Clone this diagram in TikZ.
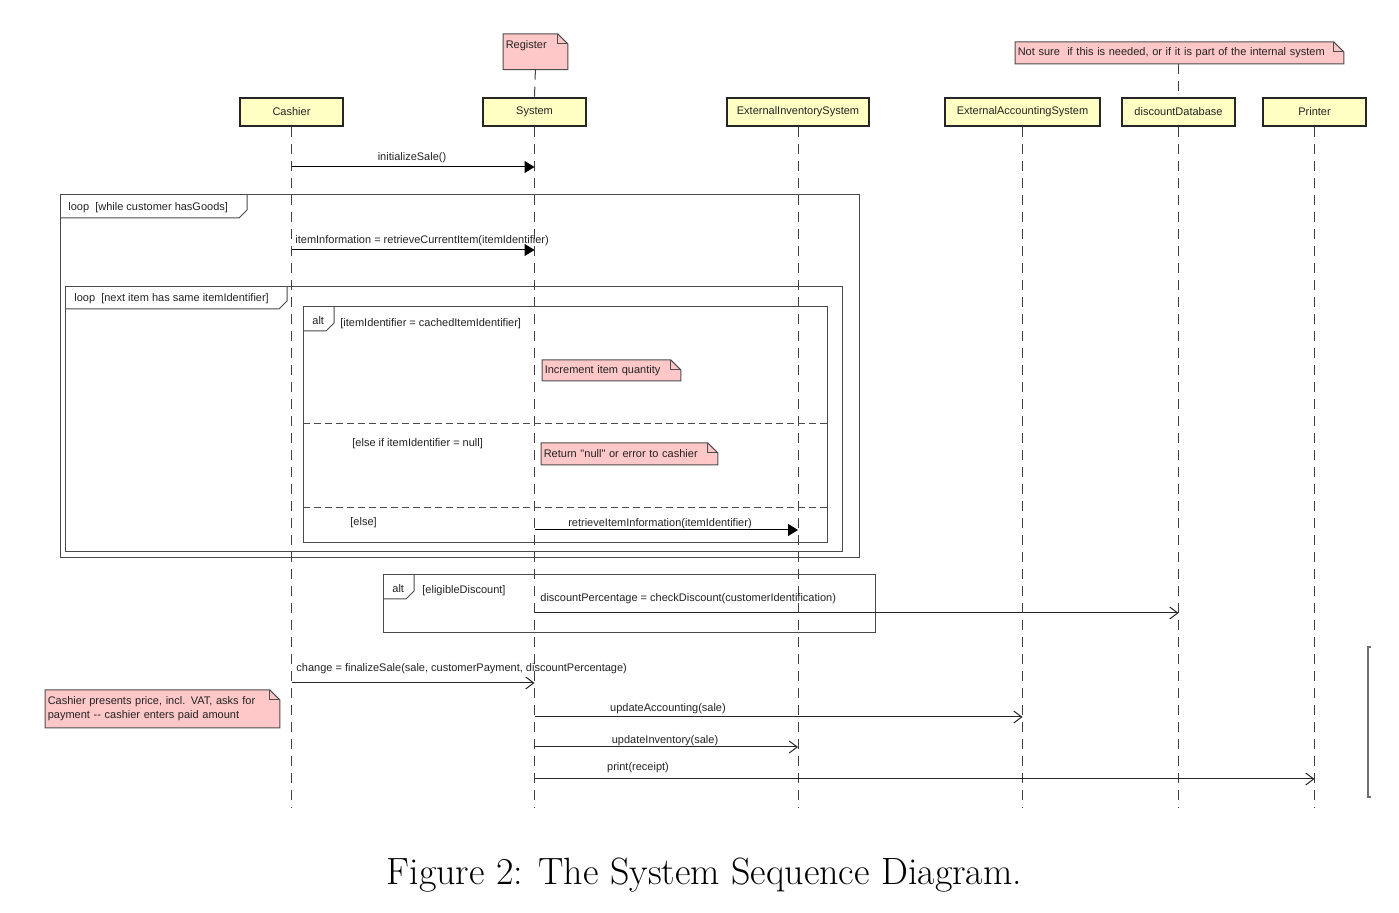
\documentclass[tikz,border=0pt]{standalone}
\usepackage{fontspec}
\newfontfamily\diafont{Liberation Sans}
\usetikzlibrary{arrows.meta,backgrounds}

\definecolor{headyellow}{HTML}{FFFFC4}
\definecolor{notepink}{HTML}{FFC8C8}
\definecolor{framegray}{HTML}{4A4A4A}
\definecolor{inkgray}{HTML}{222222}

\tikzset{
  head/.style={draw=black!85, line width=0.9pt, fill=headyellow, minimum height=14pt,
    inner sep=0pt, text=inkgray, font=\diafont\fontsize{5.5}{7}\selectfont},
  life/.style={draw=black!75, line width=0.5pt, dash pattern=on 5pt off 3.5pt},
  note/.style={anchor=north west, inner sep=1.2pt, text width=#1, align=left,
    text=inkgray, font=\diafont\fontsize{5.5}{7}\selectfont},
  notefold/.style={draw=black!70, fill=notepink, line width=0.5pt},
  lbl/.style={inner sep=0pt, yshift=-1pt, text=inkgray, font=\diafont\fontsize{5.5}{7}\selectfont},
  frame/.style={draw=framegray, line width=0.5pt},
  sync/.style={draw=black, line width=0.5pt, -{Triangle[length=5pt,width=6pt]}},
  async/.style={draw=black!85, line width=0.5pt, -{Straight Barb[length=4pt,width=6pt]}},
}

\begin{document}
\begin{tikzpicture}[x=0.5pt, y=-0.5pt]
  \useasboundingbox (0,0) rectangle (1399,913);
  % lifeline heads
  \node[head, minimum width=51.5pt] (cashier) at (291.5,112) {Cashier};
  \node[head, minimum width=51.5pt] (system) at (534.5,112) {System};
  \node[head, minimum width=71pt] (extinv) at (798,112) {ExternalInventorySystem};
  \node[head, minimum width=77.5pt] (extacc) at (1022.5,112) {ExternalAccountingSystem};
  \node[head, minimum width=56.5pt] (discdb) at (1178.5,112) {discountDatabase};
  \node[head, minimum width=51.5pt] (printer) at (1314.5,112) {Printer};
  % lifelines
  \foreach \h in {cashier,system,extinv,extacc,discdb,printer}
    \draw[life] (\h.south) -- (\h.south |- 0,808);

  % notes
  \node[note=29.6pt, text height=6pt, text depth=9pt] (register) at (503,34) {Register};
  \node[note=161.6pt, minimum height=10.5pt] (notesure) at (1015,42) {Not sure\ \ if this is needed, or if it is part of the internal system};
  \node[note=66.6pt, minimum height=10pt] (incnote) at (542,360) {Increment item quantity};
  \node[note=85.6pt, minimum height=10.5pt] (nullnote) at (541,443) {Return "null" or error to cashier};
  \node[note=114.6pt, minimum height=18.5pt] (paynote) at (45,690) {Cashier presents price, incl. VAT, asks for\\payment -{}- cashier enters paid amount};
  \begin{scope}[on background layer]
    \foreach \n in {register,notesure,incnote,nullnote,paynote} {
      \filldraw[notefold] (\n.north west) -- ([xshift=-5pt]\n.north east) -- ([yshift=-5pt]\n.north east)
        -- (\n.south east) -- (\n.south west) -- cycle;
      \draw[notefold, fill=none] ([xshift=-5pt]\n.north east) -- ++(0pt,-5pt) -- ([yshift=-5pt]\n.north east);
    }
  \end{scope}
  \draw[life] (register.south) -- (system.north);
  \draw[life] (notesure.south -| discdb) -- (discdb.north);

  % frames
  \draw[frame] (60,195) rectangle (859,558);
  \draw[frame] (60,218) -- (239,218) -- (247,210) -- (247,195);
  \node[lbl, anchor=west] (loopouter) at (68,206) {loop\ \ [while customer hasGoods]};
  \draw[frame] (65,287) rectangle (842,552);
  \draw[frame] (65,309) -- (279,309) -- (287,301) -- (287,287);
  \node[lbl, anchor=west] (loopinner) at (74,297) {loop\ \ [next item has same itemIdentifier]};
  \draw[frame] (303,307) rectangle (827,543);
  \draw[frame] (303,331) -- (326,331) -- (334,323) -- (334,307);
  \node[lbl, anchor=west] (altitem) at (312,319) {alt};
  \node[lbl, anchor=west] (guardcached) at (340,322) {[itemIdentifier = cachedItemIdentifier]};
  \draw[frame, dash pattern=on 3.5pt off 2pt] (303,424) -- (827,424);
  \node[lbl, anchor=west] (guardnull) at (352,442) {[else if itemIdentifier = null]};
  \draw[frame, dash pattern=on 3.5pt off 2pt] (303,508) -- (827,508);
  \node[lbl, anchor=west] (guardelse) at (350,521) {[else]};
  \draw[frame] (383,575) rectangle (875,633);
  \draw[frame] (383,599) -- (406,599) -- (414,591) -- (414,575);
  \node[lbl, anchor=west] (altdisc) at (392,587) {alt};
  \node[lbl, anchor=west] (guarddisc) at (422,589) {[eligibleDiscount]};

  % messages
  \node[lbl] (initlbl) at (412,156) {initializeSale()};
  \draw[sync] (cashier |- 0,167) -- (system |- 0,167);
  \node[lbl, anchor=west] (retrlbl) at (295,239) {itemInformation = retrieveCurrentItem(itemIdentifier)};
  \draw[sync] (cashier |- 0,250) -- (system |- 0,250);
  \node[lbl] (infolbl) at (660,522) {retrieveItemInformation(itemIdentifier)};
  \draw[sync] (system |- 0,530) -- (extinv |- 0,530);
  \node[lbl, anchor=west] (disclbl) at (540,597) {discountPercentage = checkDiscount(customerIdentification)};
  \draw[async] (system |- 0,613) -- (discdb |- 0,613);
  \node[lbl, anchor=west] (finlbl) at (296,667) {change = finalizeSale(sale, customerPayment, discountPercentage)};
  \draw[async] (cashier |- 0,683) -- (system |- 0,683);
  \node[lbl] (acclbl) at (668,707) {updateAccounting(sale)};
  \draw[async] (system |- 0,717) -- (extacc |- 0,717);
  \node[lbl] (invlbl) at (665,739) {updateInventory(sale)};
  \draw[async] (system |- 0,747) -- (extinv |- 0,747);
  \node[lbl] (prnlbl) at (638,766) {print(receipt)};
  \draw[async] (system |- 0,779) -- (printer |- 0,779);

  % bracket at the right edge
  \draw[framegray!80, line width=0.6pt] (1371,647) -- (1368,647) -- (1368,797) -- (1371,797);

  % caption
  \node[anchor=base, inner sep=0pt, font=\fontsize{19}{22}\selectfont] (caption) at (704.5,885)
    {Figure 2: The System Sequence Diagram.};
\end{tikzpicture}
\end{document}
